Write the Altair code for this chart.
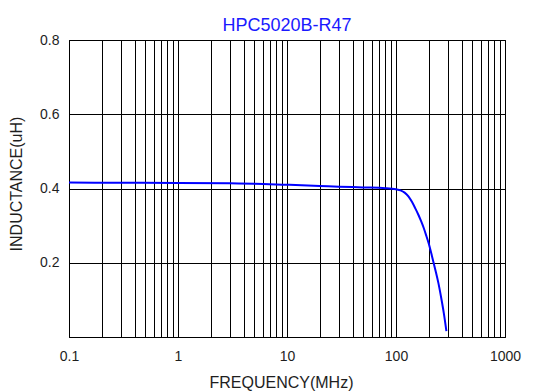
import altair as alt
import pandas as pd

freq_mhz = [0.1, 0.3, 1, 3, 5, 10, 20, 30, 50, 80, 100, 110, 120, 130, 140, 150, 160, 170, 180, 190, 200, 215, 230, 245, 260, 275, 290]
inductance_uh = [0.416, 0.4155, 0.415, 0.414, 0.413, 0.410, 0.407, 0.405, 0.403, 0.401, 0.398, 0.395, 0.389, 0.379, 0.364, 0.347, 0.330, 0.312, 0.293, 0.272, 0.251, 0.215, 0.180, 0.145, 0.105, 0.063, 0.016]

x_grid = [m * 10.0 ** e for e in range(-1, 3) for m in range(1, 10)] + [1000.0]
y_ticks = [0.2, 0.4, 0.6, 0.8]

df = pd.DataFrame({"f": freq_mhz, "L": inductance_uh})

font = "Liberation Sans"
text_color = "#1e1e1e"

chart = alt.Chart(df).mark_line(color="#0000ff", strokeWidth=2, interpolate="monotone").encode(
    x=alt.X("f:Q",
            scale=alt.Scale(type="log", domain=[0.1, 1000], nice=False),
            axis=alt.Axis(values=x_grid, title="FREQUENCY(MHz)", grid=True,
                          gridColor="#000000", gridOpacity=1, gridWidth=1,
                          ticks=False, domain=True, domainColor="#000000",
                          labelFlush=False, labelOverlap=False,
                          labelExpr="abs(log(datum.value)/LN10 - round(log(datum.value)/LN10)) < 1e-6 ? format(datum.value, '~g') : ''",
                          labelFont=font, labelFontSize=14, labelColor=text_color, labelPadding=12,
                          titleFont=font, titleFontSize=16, titleFontWeight="normal", titleColor=text_color,
                          titleX=212, titleY=45, titleAlign="center", titleBaseline="middle")),
    y=alt.Y("L:Q",
            scale=alt.Scale(domain=[0, 0.8], nice=False),
            axis=alt.Axis(values=y_ticks, title="INDUCTANCE(uH)", grid=True,
                          gridColor="#000000", gridOpacity=1, gridWidth=1,
                          ticks=False, domain=True, domainColor="#000000",
                          format=".1f", labelOverlap=False,
                          labelFont=font, labelFontSize=14, labelColor=text_color, labelPadding=10,
                          titleFont=font, titleFontSize=16, titleFontWeight="normal", titleColor=text_color,
                          titleX=-53, titleY=143.5, titleAngle=270, titleAlign="center", titleBaseline="middle")),
).properties(
    width=436, height=297,
    title=alt.TitleParams("HPC5020B-R47", font=font, fontSize=18, fontWeight="normal", color="#1a1aff",
                          anchor="middle", offset=1, dy=3),
    autosize=alt.AutoSizeParams(type="none"),
    padding={"left": 61, "top": 32, "right": 21, "bottom": 54},
).configure_view(stroke="#000000", strokeWidth=1)

chart.save("out.html", embed_options={"renderer": "svg", "actions": False})
